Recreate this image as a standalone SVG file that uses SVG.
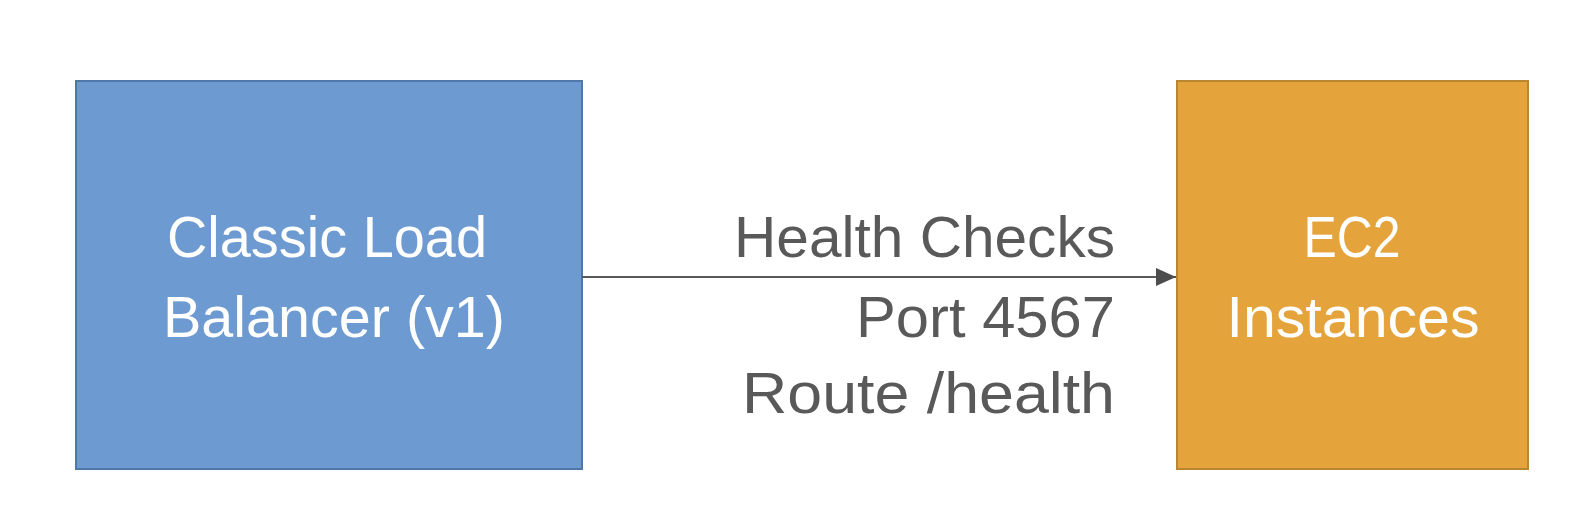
<svg xmlns="http://www.w3.org/2000/svg" width="1582" height="520" viewBox="0 0 1582 520">
  <defs>
    <marker id="arrow" viewBox="0 0 20 18" refX="20" refY="9" markerWidth="20" markerHeight="18" markerUnits="userSpaceOnUse" orient="auto">
      <path d="M0,0 L20,9 L0,18 Z" fill="#4d4d4d"/>
    </marker>
    <style>
      .box-text { font-family: "Liberation Sans", Arial, sans-serif; font-size: 58px; fill: #ffffff; text-anchor: middle; }
      .label { font-family: "Liberation Sans", Arial, sans-serif; font-size: 58px; fill: #595959; text-anchor: end; }
      .conn { stroke: #5a5a5a; stroke-width: 1.8; fill: none; }
    </style>
  </defs>
  <rect width="1582" height="520" fill="#ffffff"/>
  <g id="classic-load-balancer">
    <rect x="76" y="81" width="506" height="388" fill="#6d9bd1" stroke="#4f77a8" stroke-width="2"/>
    <text class="box-text" x="327" y="257" textLength="320" lengthAdjust="spacingAndGlyphs">Classic Load</text>
    <text class="box-text" x="334" y="337" textLength="342" lengthAdjust="spacingAndGlyphs">Balancer (v1)</text>
  </g>
  <g id="ec2-instances">
    <rect x="1177" y="81" width="351" height="388" fill="#e5a33b" stroke="#b98631" stroke-width="2"/>
    <text class="box-text" x="1352" y="257" textLength="97" lengthAdjust="spacingAndGlyphs">EC2</text>
    <text class="box-text" x="1353" y="337" textLength="253" lengthAdjust="spacingAndGlyphs">Instances</text>
  </g>
  <g id="connectors">
    <line class="conn" x1="582" y1="277" x2="1176" y2="277" marker-end="url(#arrow)"/>
    <text class="label" x="1115" y="257" textLength="381" lengthAdjust="spacingAndGlyphs">Health Checks</text>
    <text class="label" x="1115" y="337" textLength="259" lengthAdjust="spacingAndGlyphs">Port 4567</text>
    <text class="label" x="1115" y="413" textLength="373" lengthAdjust="spacingAndGlyphs">Route /health</text>
  </g>
</svg>
